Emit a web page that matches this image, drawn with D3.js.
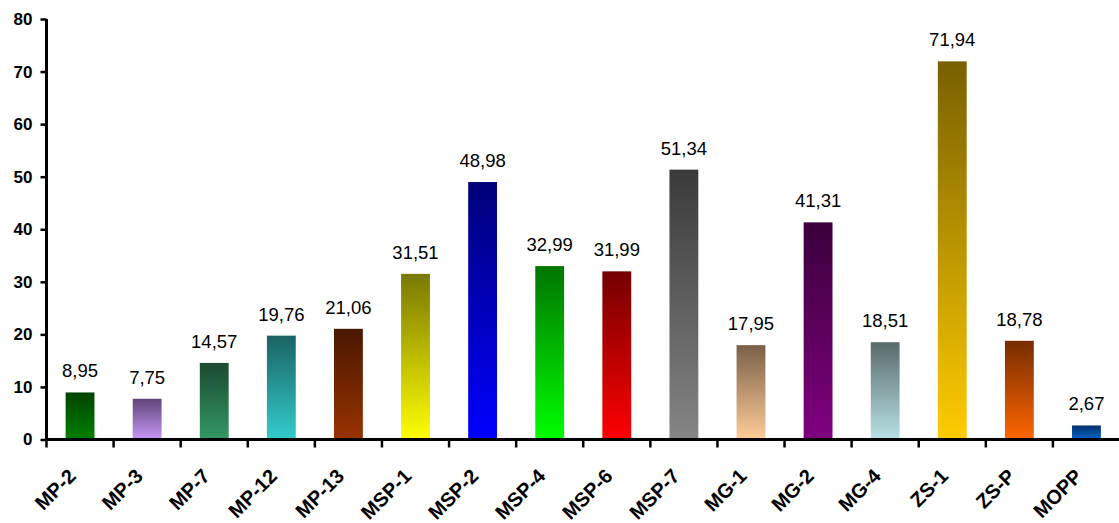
<!DOCTYPE html>
<html><head><meta charset="utf-8">
<script src="https://cdn.jsdelivr.net/npm/d3@7/dist/d3.min.js"></script>
<style>
html,body{margin:0;padding:0;background:#fff;}
svg{display:block;}
text{font-family:"Liberation Sans",Arial,sans-serif;}
</style></head>
<body>
<svg id="c" width="1119" height="523"></svg>
<script>
const categories = ["MP-2","MP-3","MP-7","MP-12","MP-13","MSP-1","MSP-2","MSP-4","MSP-6","MSP-7","MG-1","MG-2","MG-4","ZS-1","ZS-P","MOPP"];
const values = [8.95,7.75,14.57,19.76,21.06,31.51,48.98,32.99,31.99,51.34,17.95,41.31,18.51,71.94,18.78,2.67];
const topColors = ["#004400","#5e4478","#1b4a30","#1b6262","#4a1800","#7a7800","#000078","#007400","#740000","#3a3a3a","#7a6048","#3a003a","#5a6a6a","#786000","#762c00","#00306a"];
const bottomColors = ["#008000","#c897f8","#339966","#33cccc","#993300","#ffff00","#0000ff","#00ff00","#ff0000","#858585","#ffcc99","#800080","#b8e2e6","#ffcc00","#ff6600","#0066cc"];
const yTicks = [0,10,20,30,40,50,60,70,80];

const svg = d3.select("#c");
const x0 = 46.5, x1 = 1120, yTop = 19, yBot = 439.5;
const x = d3.scaleBand().domain(categories).range([x0, x1]).paddingInner(0.57).paddingOuter(0.285);
const xb = d3.scaleBand().domain(categories).range([x0, x1]);
const y = d3.scaleLinear().domain([0, 80]).range([yBot, yTop]);

const defs = svg.append("defs");
categories.forEach((c, i) => {
  const g = defs.append("linearGradient").attr("id", "g" + i).attr("x1", 0).attr("y1", 0).attr("x2", 0).attr("y2", 1);
  g.append("stop").attr("offset", "0%").attr("stop-color", topColors[i]);
  g.append("stop").attr("offset", "100%").attr("stop-color", bottomColors[i]);
});

svg.append("g").selectAll("rect").data(values).join("rect")
  .attr("x", (d, i) => x(categories[i]))
  .attr("width", x.bandwidth())
  .attr("y", d => y(d))
  .attr("height", d => y(0) - y(d))
  .attr("fill", (d, i) => `url(#g${i})`);

svg.append("g").selectAll("text").data(values).join("text")
  .attr("x", (d, i) => x(categories[i]) + x.bandwidth() / 2)
  .attr("y", d => y(d) - 15)
  .attr("text-anchor", "middle")
  .attr("font-size", "18.5px")
  .attr("fill", "#000")
  .text(d => d.toFixed(2).replace(".", ","));

// y axis
const yAxis = svg.append("g").attr("transform", `translate(${x0},0)`)
  .call(d3.axisLeft(y).tickValues(yTicks).tickSize(6).tickPadding(8).tickFormat(d3.format("d")));
yAxis.select(".domain").attr("stroke", "#000").attr("stroke-width", 3).attr("d", `M0,${yTop}V${yBot}`);
yAxis.selectAll(".tick line").attr("stroke", "#000").attr("stroke-width", 2.5);
yAxis.selectAll(".tick text").attr("font-size", "17px").attr("font-weight", "bold").attr("fill", "#000")
  .attr("font-family", "Liberation Sans, Arial, sans-serif");

// x axis
const xAxis = svg.append("g").attr("transform", `translate(0,${yBot})`)
  .call(d3.axisBottom(xb).tickSize(0).tickFormat(""));
xAxis.select(".domain").attr("stroke", "#000").attr("stroke-width", 3).attr("d", `M${x0},0H${x1}`);
xAxis.selectAll(".tick").remove();
const boundaries = d3.range(categories.length).map(i => xb(categories[i]));
xAxis.selectAll("line.bt").data(boundaries).join("line").attr("class", "bt")
  .attr("x1", d => d).attr("x2", d => d).attr("y1", 0).attr("y2", 8)
  .attr("stroke", "#000").attr("stroke-width", 2.5);
xAxis.selectAll("text.xl").data(categories).join("text").attr("class", "xl")
  .attr("transform", d => `translate(${xb(d) + xb.bandwidth() / 2 - 3},${38}) rotate(-45)`)
  .attr("text-anchor", "end")
  .attr("font-size", "20px")
  .attr("font-weight", "bold")
  .attr("fill", "#000")
  .text(d => d);
</script>
</body></html>
